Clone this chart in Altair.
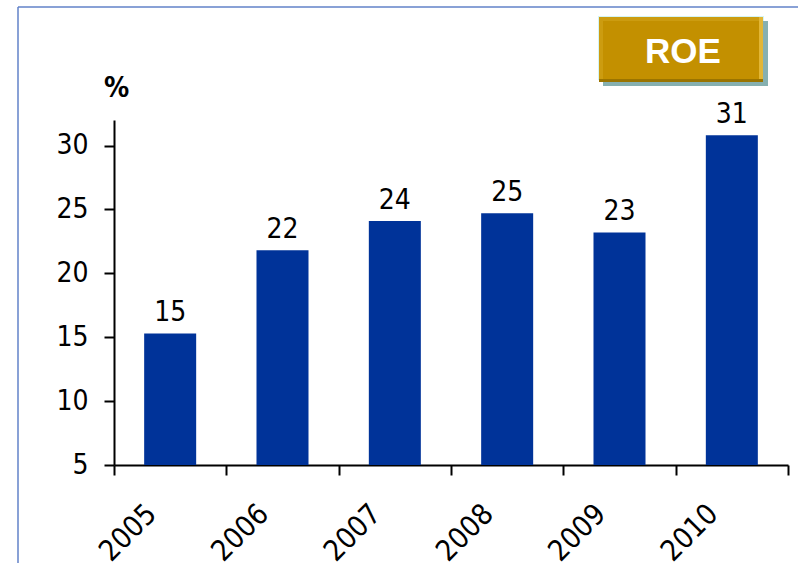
import altair as alt
import pandas as pd

# Return on equity by year (%)
years = ["2005", "2006", "2007", "2008", "2009", "2010"]
roe = [15.3, 21.8, 24.1, 24.7, 23.2, 30.8]
y_ticks = [5, 10, 15, 20, 25, 30]
y_floor = 5

df = pd.DataFrame({"year": years, "roe": roe})
badge = pd.DataFrame({"label": ["ROE"]})

FONT = "DejaVu Sans Condensed, DejaVu Sans"
BAR = "#003399"
W, H = 674, 345

x_enc = alt.X(
    "year:N",
    sort=years,
    scale=alt.Scale(paddingInner=0, paddingOuter=0),
    axis=alt.Axis(
        title=None,
        tickBand="extent",
        tickSize=10,
        tickWidth=2,
        tickColor="black",
        domainColor="black",
        domainWidth=2,
        labelAngle=-45,
        labelFont=FONT,
        labelFontSize=29,
        labelColor="black",
        labelPadding=24,
        labelOffset=-29,
    ),
)

y_enc = alt.Y(
    "roe:Q",
    scale=alt.Scale(domain=[5, 32], nice=False, zero=False),
    axis=alt.Axis(
        values=y_ticks,
        grid=False,
        tickSize=10,
        tickWidth=2,
        tickColor="black",
        domainColor="black",
        domainWidth=2,
        labelFont=FONT,
        labelFontSize=28,
        labelColor="black",
        labelPadding=16,
        title="%",
        titleAngle=0,
        titleFont=FONT,
        titleFontSize=28,
        titleFontWeight="bold",
        titleColor="black",
        titleAlign="center",
        titleBaseline="alphabetic",
        titleX=2,
        titleY=-24,
    ),
)

bars = alt.Chart(df).mark_bar(
    color=BAR, width=alt.RelativeBandSize(0.463)
).encode(x=x_enc, y=y_enc, y2=alt.datum(y_floor))

values = alt.Chart(df).mark_text(
    font=FONT, fontSize=28, color="black", baseline="alphabetic", dy=-12
).encode(x=alt.X("year:N", sort=years), y="roe:Q", text=alt.Text("roe:Q", format=".0f"))

# Slide frame: thin blue lines along the top and left
frame_top = alt.Chart(badge).mark_rule(color="#6282C8", strokeWidth=1.5).encode(
    x=alt.value(-96), x2=alt.value(W + 20), y=alt.value(-113)
)
frame_left = alt.Chart(badge).mark_rule(color="#6282C8", strokeWidth=1.5).encode(
    x=alt.value(-96), y=alt.value(-113), y2=alt.value(H + 110)
)

# Bevelled "ROE" badge in the top right corner
def box(color, x0, x1, y0, y1):
    return alt.Chart(badge).mark_rect(color=color).encode(
        x=alt.value(x0), x2=alt.value(x1), y=alt.value(y0), y2=alt.value(y1)
    )

badge_layers = [
    box("#D4F4F4", 484, 650, -104, -40),
    box("#86B0B0", 489, 654, -99, -34),
    box("#9A7400", 485, 649, -103, -38),
    box("#E2B636", 485, 649, -103, -41),
    box("#CC9C10", 485, 645, -103, -41),
    box("#C39000", 489, 645, -99, -41),
]
badge_text = alt.Chart(badge).mark_text(
    font="Liberation Sans", fontSize=35, fontWeight="bold", color="white",
    align="center", baseline="alphabetic",
).encode(x=alt.value(569), y=alt.value(-57), text="label:N")

chart = alt.layer(
    frame_top, frame_left, *badge_layers, badge_text, bars, values
).properties(
    width=W,
    height=H,
    autosize=alt.AutoSizeParams(type="none"),
    padding={"left": 114, "top": 120, "right": 10, "bottom": 98},
    background="white",
).configure_view(stroke=None)

chart.save("out.html", embed_options={"renderer": "svg", "actions": False})
